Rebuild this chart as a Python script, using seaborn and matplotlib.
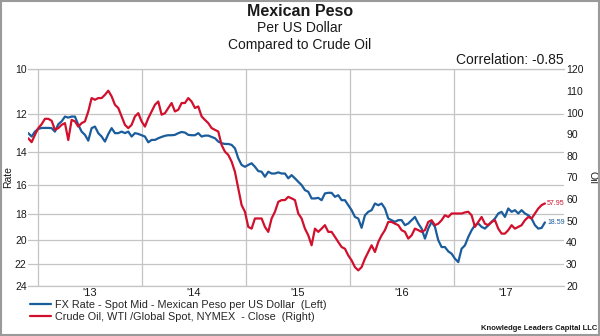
import matplotlib
matplotlib.use("Agg")
import matplotlib.pyplot as plt
import matplotlib.dates as mdates
import matplotlib.ticker as mticker
from matplotlib.patches import Rectangle
import seaborn as sns
import pandas as pd

sns.set_theme(style="white")
plt.rcParams["font.family"] = ["Liberation Sans", "DejaVu Sans"]

BLUE = "#1a5c9c"
RED = "#d0102c"
GRID = "#c4c4c4"
TXT = "#1a1a1a"

# ---------------- data ----------------
start_date = "2012-11-28"
end_date = "2017-11-17"

peso = [
    12.95, 13.13, 12.87, 12.73, 12.68, 12.68, 12.68, 12.69, 12.87, 12.49, 12.35, 12.11, 12.16,
    12.11, 12.11, 12.52, 12.87, 13.04, 13.35, 12.69, 12.61, 12.95, 13.13, 13.40, 13.00, 12.69,
    12.95, 12.95, 12.87, 12.95, 12.87, 13.13, 12.95,
    12.99, 13.06, 13.13, 13.44, 13.31, 13.31, 13.22, 13.15, 13.09, 13.06, 13.06, 13.04, 12.95,
    12.89, 12.92, 13.04, 13.06, 13.06, 12.95, 13.13, 13.08, 13.08, 13.15, 13.22, 13.40, 13.49,
    13.53, 13.53, 13.58, 13.77, 14.34,
    14.73, 14.84, 14.73, 14.63, 14.84, 15.10, 15.14, 15.45, 15.14, 15.25, 15.25, 15.18, 15.25,
    15.25, 15.55, 15.35, 15.55, 15.77, 15.98, 16.31, 16.42, 16.87, 16.87, 16.83, 16.99, 16.53,
    16.49, 16.49, 16.76, 16.65, 16.99,
    16.99, 17.34, 17.69, 18.18, 18.30, 19.00, 18.06, 17.81, 17.69, 17.22, 17.34, 17.22, 17.57,
    18.30, 18.42, 18.55, 18.42, 18.42, 18.80, 18.67, 18.42, 18.18, 18.67, 19.06, 19.85, 19.06,
    18.55, 18.93, 19.98, 20.54, 20.54,
    20.90, 21.10, 21.53, 21.83, 20.68, 20.40, 19.72, 19.19, 18.80, 18.67, 18.93, 19.06, 18.80,
    18.55, 18.30, 17.93, 17.81, 18.18, 17.57, 17.81, 17.69, 17.93, 17.69, 17.93, 18.06, 18.30,
    18.80, 19.06, 19.01, 18.59,
]

oil = [
    88.1, 86.3, 89.7, 92.8, 94.6, 97.1, 97.1, 96.2, 92.0, 92.8, 94.3, 95.1, 87.3,
    96.6, 95.9, 93.5, 95.1, 95.9, 100.5, 106.7, 105.9, 106.7, 106.7, 108.2, 110.1, 107.5,
    103.6, 102.1, 98.2, 94.3, 92.8, 94.3, 98.2,
    99.7, 95.9, 93.5, 97.4, 100.5, 103.6, 105.1, 99.0, 99.7, 102.1, 104.4, 100.5, 101.3,
    104.4, 104.4, 106.7, 105.1, 102.1, 102.8, 98.2, 96.6, 95.1, 92.8, 92.0, 91.2, 85.0,
    81.9, 80.4, 77.3, 72.6, 64.9,
    57.2, 54.1, 47.1, 46.3, 51.0, 51.0, 51.0, 47.1, 44.8, 51.0, 54.1, 58.7, 59.5,
    59.5, 61.0, 60.3, 59.5, 53.3, 51.0, 46.3, 43.2, 38.6, 46.3, 44.8, 46.3, 47.9,
    44.8, 44.8, 42.5, 40.1, 37.8,
    37.0, 33.9, 31.6, 28.5, 27.0, 28.5, 32.4, 35.5, 38.6, 35.5, 40.1, 43.2, 45.6,
    49.4, 49.4, 48.6, 47.9, 45.6, 44.8, 41.7, 43.2, 46.3, 45.6, 44.8, 45.6, 49.4,
    50.2, 47.9, 48.6, 50.2, 52.5,
    51.7, 53.3, 53.3, 53.3, 53.3, 53.8, 54.1, 52.5, 47.1, 49.4, 51.7, 48.6, 47.9,
    49.4, 50.2, 46.3, 44.0, 44.0, 45.6, 47.9, 46.3, 47.1, 47.9, 50.2, 51.7, 51.0,
    53.3, 55.6, 57.2, 57.95,
]

left_ticks = [10, 12, 14, 16, 18, 20, 22, 24]
right_ticks = [20, 30, 40, 50, 60, 70, 80, 90, 100, 110, 120]
years = [2013, 2014, 2015, 2016, 2017]
year_labels = ["'13", "'14", "'15", "'16", "'17"]
x_limits = ("2012-11-27", "2018-01-23")

series_names = [
    "FX Rate - Spot Mid - Mexican Peso per US Dollar  (Left)",
    "Crude Oil, WTI /Global Spot, NYMEX  - Close  (Right)",
]

dates = pd.date_range(start_date, end_date, periods=len(peso))
df = pd.DataFrame({"date": dates, "peso": peso, "oil": oil})

# ---------------- figure ----------------
fig = plt.figure(figsize=(6, 3.36), dpi=100)
fig.patch.set_facecolor("white")
L, R, T, B = 28, 564, 69.3, 285.5
ax = fig.add_axes([L / 600, 1 - B / 336, (R - L) / 600, (B - T) / 336])
ax2 = ax.twinx()

sns.lineplot(data=df, x="date", y="peso", ax=ax, color=BLUE, linewidth=1.6,
             label=series_names[0], legend=False)
sns.lineplot(data=df, x="date", y="oil", ax=ax2, color=RED, linewidth=1.6,
             label=series_names[1], legend=False)
for a in (ax, ax2):
    if a.get_legend() is not None:
        a.get_legend().remove()

# left axis: inverted log scale
ax.set_yscale("log")
ax.set_ylim(max(left_ticks), min(left_ticks))
ax.yaxis.set_major_locator(mticker.FixedLocator(left_ticks))
ax.yaxis.set_major_formatter(mticker.FixedFormatter([str(t) for t in left_ticks]))
ax.yaxis.set_minor_locator(mticker.NullLocator())

# right axis
ax2.set_ylim(min(right_ticks), max(right_ticks))
ax2.yaxis.set_major_locator(mticker.FixedLocator(right_ticks))
ax2.yaxis.set_major_formatter(mticker.FixedFormatter([str(t) for t in right_ticks]))

# x axis: gridlines at year starts, labels mid-year
ax.set_xlim(pd.Timestamp(x_limits[0]), pd.Timestamp(x_limits[1]))
ax.xaxis.set_major_locator(mticker.FixedLocator(
    [mdates.date2num(pd.Timestamp(f"{y}-01-01")) for y in years]))
ax.xaxis.set_major_formatter(mticker.NullFormatter())
ax.xaxis.set_minor_locator(mticker.FixedLocator(
    [mdates.date2num(pd.Timestamp(f"{y}-07-01")) for y in years]))
ax.xaxis.set_minor_formatter(mticker.FixedFormatter(year_labels))

ax.grid(True, axis="both", which="major", color=GRID, linewidth=0.9)
ax2.grid(False)

ax.tick_params(axis="y", which="both", length=0, pad=1, labelsize=7.5, colors=TXT)
ax2.tick_params(axis="y", which="both", length=0, pad=1.5, labelsize=7.5, colors=TXT)
ax.tick_params(axis="x", which="both", length=0, pad=2, labelsize=8, colors=TXT)

for a in (ax, ax2):
    for side in ("left", "right"):
        a.spines[side].set_visible(False)
ax2.spines["top"].set_visible(False)
ax2.spines["bottom"].set_visible(False)
ax.spines["top"].set_color(GRID)
ax.spines["bottom"].set_color(GRID)
ax.spines["top"].set_linewidth(0.9)
ax.spines["bottom"].set_linewidth(0.9)

ax.set_xlabel("")
ax.set_ylabel("Rate", fontsize=7.5, color=TXT)
ax.yaxis.set_label_coords((8 - L) / (R - L), 0.5)
ax.yaxis.label.set_va("center")
ax2.set_ylabel("Oil", fontsize=7.5, color=TXT, rotation=270)
ax2.yaxis.set_label_coords((592 - L) / (R - L), 0.5)
ax2.yaxis.label.set_va("center")

# end-value labels
ax2.annotate(f"{oil[-1]:.2f}", xy=(dates[-1], oil[-1]), xytext=(1.5, 0),
             textcoords="offset points", color=RED, fontsize=5, va="center")
ax.annotate(f"{peso[-1]:.2f}", xy=(dates[-1], peso[-1]), xytext=(1.5, 0),
            textcoords="offset points", color=BLUE, fontsize=5, va="center")

# titles
fig.text(0.5, 1 - 11.5 / 336, "Mexican Peso", ha="center", va="center",
         fontsize=11.5, fontweight="bold", color=TXT)
fig.text(0.5, 1 - 28.5 / 336, "Per US Dollar", ha="center", va="center",
         fontsize=10, color=TXT)
fig.text(0.5, 1 - 44.5 / 336, "Compared to Crude Oil", ha="center", va="center",
         fontsize=10, color=TXT)
fig.text(R / 600, 1 - 60.5 / 336, "Correlation: -0.85", ha="right", va="center",
         fontsize=10, color=TXT)

# legend
handles = [ax.get_lines()[0], ax2.get_lines()[0]]
fig.legend(handles=handles, labels=series_names, loc="upper left",
           bbox_to_anchor=(30 / 600, 1 - 300 / 336), frameon=False, fontsize=7.8,
           handlelength=1.9, handletextpad=0.45, labelspacing=0.2,
           borderpad=0, borderaxespad=0)

fig.text(597 / 600, 1 - 329 / 336, "Knowledge Leaders Capital LLC", ha="right",
         va="center", fontsize=5.5, fontweight="bold", color=TXT)

fig.patches.append(Rectangle((0.001, 0.002), 0.997, 0.995, transform=fig.transFigure,
                             fill=False, edgecolor="#9a9a9a", linewidth=1.5))

fig.savefig("out.png", dpi=100, facecolor="white")
